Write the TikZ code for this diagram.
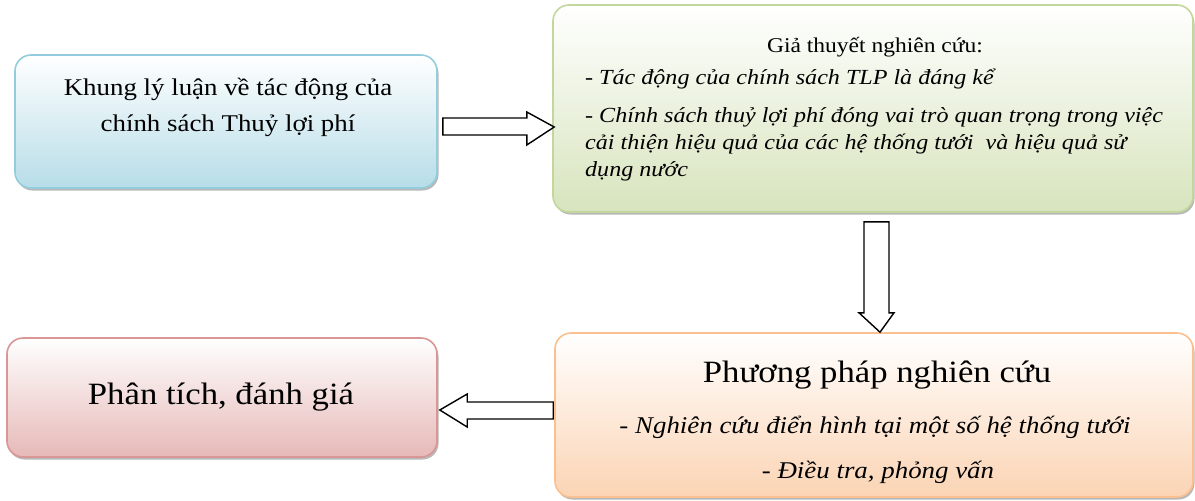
\documentclass[tikz,border=0pt]{standalone}
\usepackage{fontspec}
\setmainfont{Liberation Serif}[FakeStretch=1.12]
\usetikzlibrary{shadows,calc}
\definecolor{bluebd}{HTML}{93CDDD}
\definecolor{bluebot}{HTML}{B7DDE8}
\definecolor{greenbd}{HTML}{C3D69B}
\definecolor{greenbot}{HTML}{D7E4BD}
\definecolor{orangebd}{HTML}{FAC08F}
\definecolor{orangebot}{HTML}{FBD4B4}
\definecolor{redbd}{HTML}{D99694}
\definecolor{redbot}{HTML}{E6B9B8}
\tikzset{
  box/.style={rectangle, rounded corners=16pt, line width=1.6pt, inner sep=0pt,
    drop shadow={shadow xshift=1.5pt, shadow yshift=-2.5pt, fill=gray!70, opacity=0.8}},
  bluebox/.style={box, draw=bluebd, top color=white, bottom color=bluebot},
  greenbox/.style={box, draw=greenbd, top color=white, bottom color=greenbot},
  orangebox/.style={box, draw=orangebd, top color=white, bottom color=orangebot},
  redbox/.style={box, draw=redbd, top color=white, bottom color=redbot},
  blockarrow/.style={draw=black, line width=1.4pt, fill=white, line join=miter},
  txt/.style={inner sep=0pt, anchor=base}
}
\begin{document}
\begin{tikzpicture}[x=1pt,y=-1pt]
\useasboundingbox (0,0) rectangle (1195,501);
% boxes
\node[bluebox, minimum width=422pt, minimum height=133pt] (b1) at (226,121.5) {};
\node[greenbox, minimum width=640pt, minimum height=207pt] (b2) at (873,108.5) {};
\node[orangebox, minimum width=638pt, minimum height=164pt] (b3) at (874,415) {};
\node[redbox, minimum width=430pt, minimum height=119pt] (b4) at (222,397.5) {};
% texts
\node[txt, font=\fontsize{24}{28}\selectfont] (t1a) at (228,95) {Khung lý luận về tác động của};
\node[txt, font=\fontsize{24}{28}\selectfont] (t1b) at (228,131) {chính sách Thuỷ lợi phí};
\node[txt, font=\fontsize{21}{24}\selectfont] (t2h) at (875,52) {Giả thuyết nghiên cứu:};
\node[txt, anchor=base west, font=\fontsize{21.5}{24}\selectfont\itshape] (t2a) at (585,84) {- Tác động của chính sách TLP là đáng kể};
\node[inner sep=0pt, anchor=north west, align=left, font=\fontsize{21.5}{27}\selectfont\itshape] (t2b) at (585,107)
  {- Chính sách thuỷ lợi phí đóng vai trò quan trọng trong việc\\cải thiện hiệu quả của các hệ thống tưới\ \ và hiệu quả sử\\dụng nước};
\node[txt, font=\fontsize{31}{34}\selectfont] (t3h) at (877,382) {Phương pháp nghiên cứu};
\node[txt, font=\fontsize{24}{28}\selectfont\itshape] (t3a) at (875,433) {- Nghiên cứu điển hình tại một số hệ thống tưới};
\node[txt, font=\fontsize{24}{28}\selectfont\itshape] (t3b) at (878,478) {- Điều tra, phỏng vấn};
\node[txt, font=\fontsize{31}{34}\selectfont] (t4) at (221,404) {Phân tích, đánh giá};
% block arrows
\draw[blockarrow] ($(b1.east)+(5,-3.5)$) -- ++(84,0) -- ++(0,-6) -- ($(b2.west)+(2,18.5)$)
  -- ($(b1.east)+(89,23.5)$) -- ++(0,-10) -- ++(-84,0) -- cycle;
\draw[blockarrow] ($(b2.south)+(-9,9)$) -- ++(0,91) -- ++(-5,0) -- ($(b3.north)+(6,0)$)
  -- ($(b2.south)+(21,100)$) -- ++(-5,0) -- ++(0,-91) -- cycle;
\draw[blockarrow] ($(b3.west)+(-1,-13)$) -- ++(-86,0) -- ++(0,-8) -- ($(b4.east)+(2,12.5)$)
  -- ($(b3.west)+(-87,12)$) -- ++(0,-8) -- ++(86,0) -- cycle;
\end{tikzpicture}
\end{document}
